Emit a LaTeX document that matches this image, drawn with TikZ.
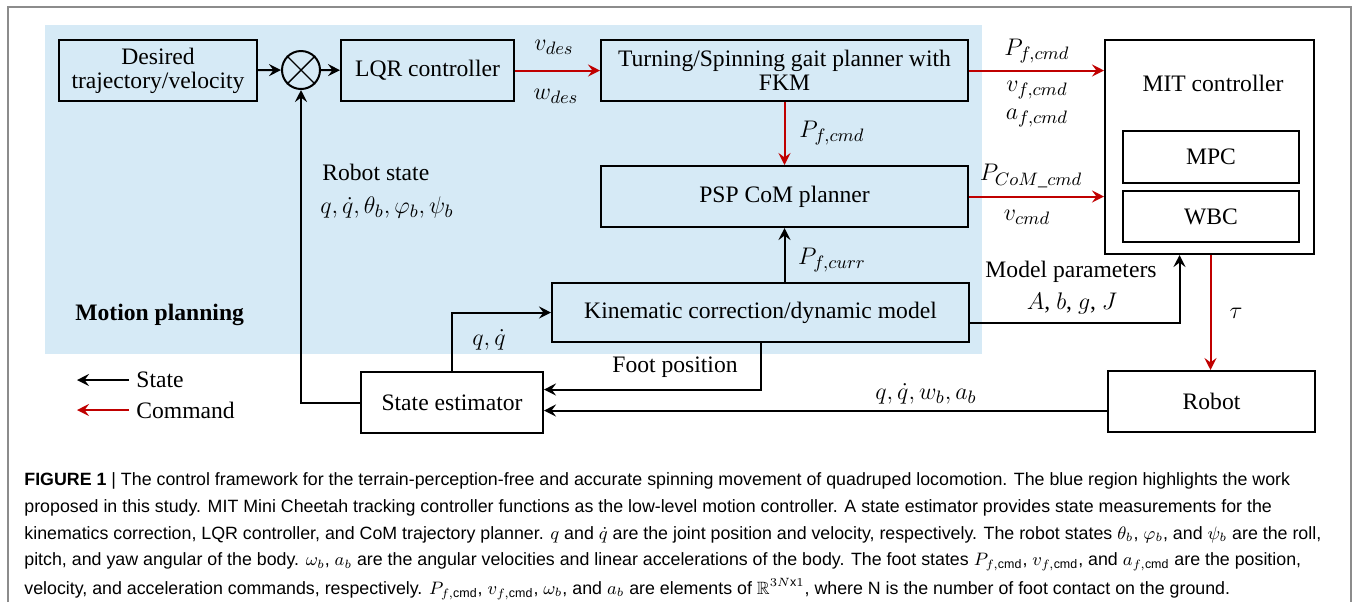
\documentclass[tikz,border=0pt]{standalone}
\usepackage{amsmath,amssymb}
\usepackage{fontspec}
\setmainfont{Liberation Serif}
\newfontfamily\capfont{Liberation Sans}
\usetikzlibrary{arrows.meta,positioning}
\definecolor{mpblue}{RGB}{214,234,246}
\definecolor{cmdred}{RGB}{192,0,0}
\definecolor{framegray}{RGB}{140,140,140}
\begin{document}
\begin{tikzpicture}[x=0.5pt,y=-0.5pt,
  font=\fontsize{11.8}{14}\selectfont,
  blk/.style={draw, line width=1pt, align=center, inner sep=0pt},
  st/.style={line width=1pt, -{Stealth[length=6pt,width=6pt,inset=2.2pt]}},
  cmd/.style={st, cmdred},
  lbl/.style={inner sep=0pt},
  mlbl/.style={inner sep=0pt, font=\fontsize{13}{15}\selectfont},
  capline/.style={anchor=west, inner sep=0pt, font=\capfont\fontsize{8.9}{10}\selectfont}]
\useasboundingbox (0,0) rectangle (1356,602);
\draw[framegray, line width=0.8pt] (8,602) -- (8,7) -- (1351,7) -- (1351,602);
\fill[mpblue] (45,25) rectangle (982,354);
% blocks
\node[blk, minimum width=99pt, minimum height=30.5pt] (desired) at (158,70.5) {Desired\\[-2pt]trajectory/velocity};
\node[draw, circle, line width=1pt, minimum size=19pt, inner sep=0pt] (sum) at (301,70) {};
\draw[line width=0.7pt] (sum.north east) -- (sum.south west) (sum.north west) -- (sum.south east);
\node[blk, minimum width=86.5pt, minimum height=30.5pt] (lqr) at (427.5,70.5) {LQR controller};
\node[blk, minimum width=183.5pt, minimum height=30.5pt] (gait) at (784.5,70.5) {Turning/Spinning gait planner with\\[-2pt]FKM};
\node[blk, minimum width=183.5pt, minimum height=30.5pt] (psp) at (784.5,196.5) {PSP CoM planner};
\node[blk, minimum width=208.5pt, minimum height=29.5pt] (kin) at (760.5,312.5) {Kinematic correction/dynamic model};
\node[blk, minimum width=91pt, minimum height=30.5pt] (est) at (452,402.5) {State estimator};
\node[blk, minimum width=104.5pt, minimum height=107pt] (mit) at (1209.5,147) {};
\node[lbl] (mittxt) at (1213,83) {MIT controller};
\node[blk, minimum width=88pt, minimum height=26pt] (mpc) at (1211,157) {MPC};
\node[blk, minimum width=88pt, minimum height=25.5pt] (wbc) at (1211,216.5) {WBC};
\node[blk, minimum width=103.5pt, minimum height=30.5pt] (robot) at (1211.5,401.5) {Robot};
% connectors
\draw[st] (desired) -- (sum);
\draw[st] (sum) -- (lqr);
\draw[cmd] (lqr) -- (gait);
\draw[cmd] (gait.east) -- (gait.east -| mit.west);
\draw[cmd] (gait) -- (psp);
\draw[cmd] (psp.east) -- (psp.east -| mit.west);
\draw[st] (psp.south |- kin.north) -- (psp.south);
\draw[st] ([yshift=-5pt]kin.east) -| ([xshift=-15pt]mit.south);
\draw[cmd] ([xshift=0.5pt]mit.south) -- ([xshift=0.5pt]mit.south |- robot.north);
\draw[st] ([yshift=-4.5pt]robot.west) -- ([yshift=-4.5pt]robot.west -| est.east);
\draw[st] (kin.south) |- ([yshift=6.5pt]est.east);
\draw[st] (est.north) |- (kin.west);
\draw[st] (est.west) -| (sum.south);
% labels
\node[mlbl] (vdes) at (554,47) {$v_{des}$};
\node[mlbl] (wdes) at (556,96) {$w_{des}$};
\node[mlbl] (pfcmd) at (1037,51) {$P_{f,cmd}$};
\node[mlbl] (vfcmd) at (1037,90) {$v_{f,cmd}$};
\node[mlbl] (afcmd) at (1037,118) {$a_{f,cmd}$};
\node[mlbl] (pfcmd2) at (832,133) {$P_{f,cmd}$};
\node[mlbl] (pcom) at (1031,176) {$P_{CoM\_cmd}$};
\node[mlbl] (vcmd) at (1027,217) {$v_{cmd}$};
\node[mlbl] (pfcurr) at (832,260) {$P_{f,curr}$};
\node[lbl] (modpar) at (1071,272) {Model parameters};
\node[lbl] (abgj) at (1072,303) {$A$, $b$, $g$, $J$};
\node[mlbl] (tau) at (1236,313) {$\tau$};
\node[mlbl] (robsig) at (926,394) {$q,\dot{q},w_b,a_b$};
\node[lbl] (footpos) at (675,367) {Foot position};
\node[mlbl] (qqd) at (489,340) {$q,\dot{q}$};
\node[lbl, anchor=west] (rstate) at (322,172) {Robot state};
\node[mlbl, anchor=west] (rsig) at (320,207) {$q,\dot{q},\theta_b,\varphi_b,\psi_b$};
\node[lbl, anchor=west, font=\fontsize{11.8}{14}\selectfont\bfseries] (mplan) at (75,315) {Motion planning};
% legend
\node[lbl, anchor=west] (lgstate) at (136,380) {State};
\node[lbl, anchor=west] (lgcmd) at (136,410) {Command};
\coordinate (lgs) at (77,380);
\coordinate (lgc) at (77,410);
\draw[st] (lgstate.west -| 129,0) -- (lgs);
\draw[cmd] (lgcmd.west -| 129,0) -- (lgc);
% caption
\node[capline] (cap1) at (24,481) {\textbf{FIGURE 1} | The control framework for the terrain-perception-free and accurate spinning movement of quadruped locomotion. The blue region highlights the work};
\node[capline] (cap2) at (24,508) {proposed in this study. MIT Mini Cheetah tracking controller functions as the low-level motion controller. A state estimator provides state measurements for the};
\node[capline] (cap3) at (24,535) {kinematics correction, LQR controller, and CoM trajectory planner. $q$ and $\dot{q}$ are the joint position and velocity, respectively. The robot states $\theta_b$, $\varphi_b$, and $\psi_b$ are the roll,};
\node[capline] (cap4) at (24,562) {pitch, and yaw angular of the body. $\omega_b$, $a_b$ are the angular velocities and linear accelerations of the body. The foot states $P_{f,\text{cmd}}$, $v_{f,\text{cmd}}$, and $a_{f,\text{cmd}}$ are the position,};
\node[capline] (cap5) at (24,589) {velocity, and acceleration commands, respectively. $P_{f,\text{cmd}}$, $v_{f,\text{cmd}}$, $\omega_b$, and $a_b$ are elements of $\mathbb{R}^{3N\text{x}1}$, where N is the number of foot contact on the ground.};
\end{tikzpicture}
\end{document}
